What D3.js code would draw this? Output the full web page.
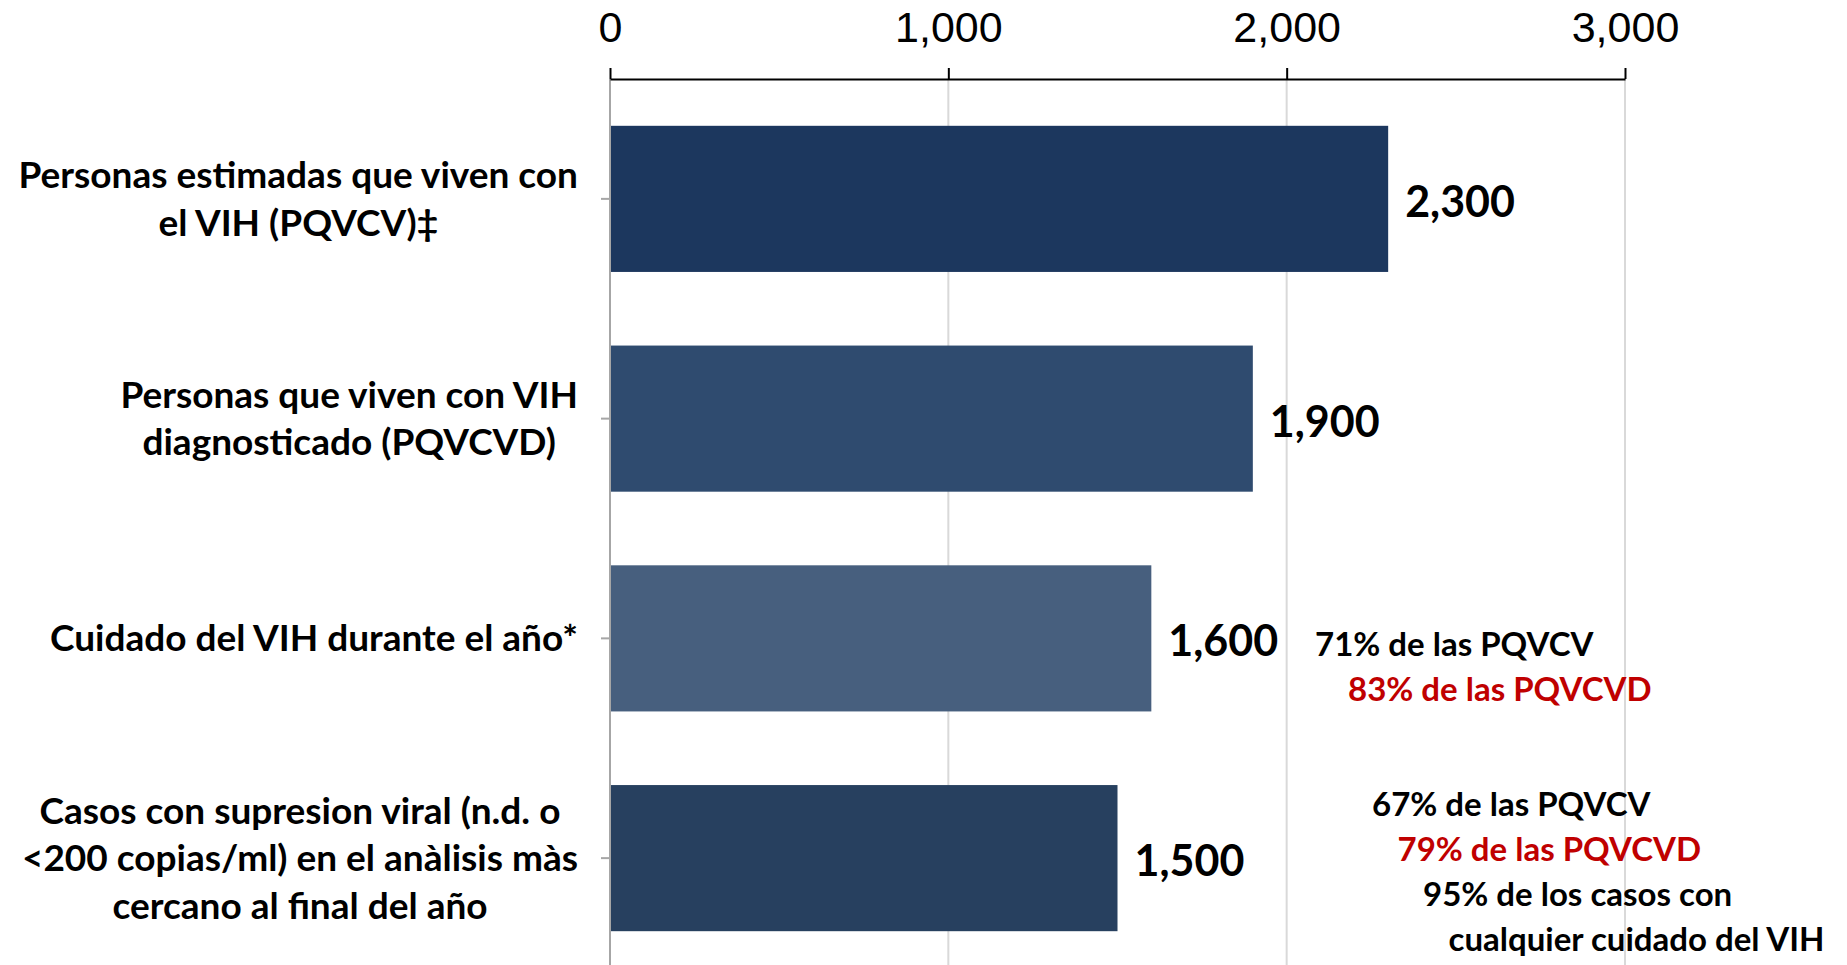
<!DOCTYPE html>
<html>
<head>
<meta charset="utf-8">
<script src="https://cdn.jsdelivr.net/npm/d3@7"></script>
<style>
  body { margin: 0; background: #fff; }
  svg { display: block; font-family: "Lato", sans-serif; }
</style>
</head>
<body>
<div id="chart"></div>
<script>
// 1: DATA
const categories = [
    ["Personas estimadas que viven con", "el VIH (PQVCV)\u2021"],
    ["Personas que viven con VIH", "diagnosticado (PQVCVD)"],
    ["Cuidado del VIH durante el año*"],
    ["Casos con supresion viral (n.d. o", "<200 copias/ml) en el anàlisis màs", "cercano al final del año"]
];
const values = [2300, 1900, 1600, 1500];
const barColors = ["#1c375e", "#2f4b6f", "#475f7e", "#27405f"];
const xTicks = [0, 1000, 2000, 3000];

// notes next to the last two bars
const notesCare = ["71% de las PQVCV", "83% de las PQVCVD"];
const notesSuppressed = ["67% de las PQVCV", "79% de las PQVCVD", "95% de los casos con", "cualquier cuidado del VIH"];
const notesCareColors = ["#000", "#c00000"];
const notesSuppressedColors = ["#000", "#c00000", "#000", "#000"];

// 2: LAYOUT
const W = 1847, H = 965;
const axisY = 79;

const svg = d3.select("#chart").append("svg")
    .attr("width", W)
    .attr("height", H);

const x = d3.scaleLinear()
    .domain([0, 3000])
    .range([610, 1625]);

const y = d3.scaleBand()
    .domain(d3.range(categories.length))
    .range([89, 968])
    .paddingInner(0.335)
    .paddingOuter(0.1675);

// gridlines
svg.append("g")
    .selectAll("line")
    .data(xTicks.slice(1))
    .join("line")
    .attr("x1", d => x(d))
    .attr("x2", d => x(d))
    .attr("y1", axisY)
    .attr("y2", H)
    .attr("stroke", "#d9d9d9")
    .attr("stroke-width", 2);

// bars
svg.append("g")
    .selectAll("rect")
    .data(values)
    .join("rect")
    .attr("x", x(0))
    .attr("y", (d, i) => y(i))
    .attr("width", d => x(d) - x(0))
    .attr("height", y.bandwidth())
    .attr("fill", (d, i) => barColors[i]);

// left axis (category ticks only)
const yAxis = svg.append("g")
    .attr("transform", `translate(${x(0)},0)`)
    .call(d3.axisLeft(y).tickSize(9).tickSizeOuter(0).tickFormat(""));
yAxis.select(".domain").attr("stroke", "#a6a6a6").attr("stroke-width", 2)
    .attr("d", `M0,${axisY}V${H}`);
yAxis.selectAll(".tick line").attr("stroke", "#a6a6a6").attr("stroke-width", 2);

// top axis
const xAxis = svg.append("g")
    .attr("transform", `translate(0,${axisY})`)
    .call(d3.axisTop(x).tickValues(xTicks).tickSize(11).tickSizeOuter(0)
        .tickPadding(26).tickFormat(d3.format(",")));
xAxis.select(".domain").attr("stroke", "#000").attr("stroke-width", 2);
xAxis.selectAll(".tick line").attr("stroke", "#000").attr("stroke-width", 2);
xAxis.selectAll("text")
    .attr("fill", "#000")
    .style("font-size", "43px")
    .style("font-family", "inherit");

// category labels: block right-aligned, lines centred inside the block
const labelRight = 578;
const lineGap = 47.5;
categories.forEach((lines, i) => {
    const g = svg.append("g");
    const cy = y(i) + y.bandwidth() / 2;
    const texts = lines.map((t, k) => g.append("text")
        .attr("y", cy + (k - (lines.length - 1) / 2) * lineGap)
        .attr("dy", "0.35em")
        .attr("text-anchor", "middle")
        .style("font-size", "37px")
        .style("font-weight", "bold")
        .text(t));
    const maxW = d3.max(texts, t => t.node().getComputedTextLength());
    texts.forEach(t => t.attr("x", labelRight - maxW / 2));
});

// value labels
svg.append("g")
    .selectAll("text")
    .data(values)
    .join("text")
    .attr("x", d => x(d) + 17)
    .attr("y", (d, i) => y(i) + y.bandwidth() / 2 + 3)
    .attr("dy", "0.35em")
    .style("font-size", "43px")
    .style("font-weight", "bold")
    .text(d => d3.format(",")(d));

// notes
function drawNotes(lines, colors, x0, y0, step, indent) {
    svg.append("g")
        .selectAll("text")
        .data(lines)
        .join("text")
        .attr("x", (d, k) => x0 + k * indent)
        .attr("y", (d, k) => y0 + k * step)
        .attr("dy", "0.35em")
        .attr("fill", (d, k) => colors[k])
        .style("font-size", "33px")
        .style("font-weight", "bold")
        .text(d => d);
}
drawNotes(notesCare, notesCareColors, 1315, 644, 45, 33);
drawNotes(notesSuppressed, notesSuppressedColors, 1372, 804, 45, 25.5);
</script>
</body>
</html>
